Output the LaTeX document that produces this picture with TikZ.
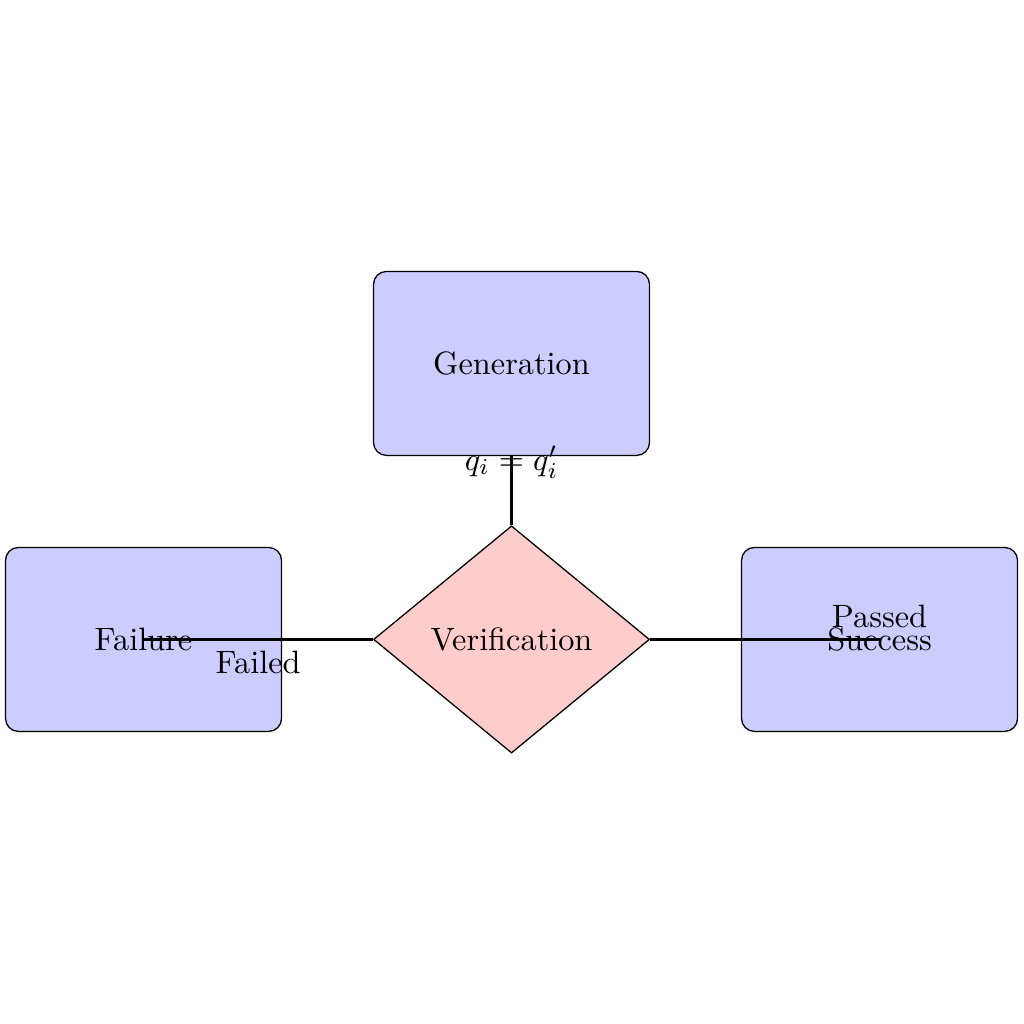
\documentclass[tikz,border=0pt]{standalone}
\usepackage{tikz}
\usetikzlibrary{positioning,shapes.geometric}
\tikzset{
      stagebox/.style={
        rounded corners=4pt,
        draw=black,
        fill=blue!20,
        minimum width=3cm,
        minimum height=2cm,
        align=center
      },
      checkdiamond/.style={
        diamond,
        draw=black,
        fill=red!20,
        minimum width=3cm,
        minimum height=2.47cm,
        inner sep=0pt
      }
    }
\begin{document}
\begin{tikzpicture}[x=1cm,y=1cm]
    \useasboundingbox (-5.56,-4.18) rectangle (5.57,6.95);
    \node[stagebox] (gen) at (0,3) {Generation};
    \node[checkdiamond] (verif) at (0,0) {Verification};
    \node[stagebox] (fail) at (-4,0) {Failure};
    \node[stagebox] (succ) at (4,0) {Success};
    \draw[thick] (verif.north) -- node[above] {$q_i = q_i'$} (gen.south);
    \draw[thick] (verif.west) -- node[below] {Failed} (fail.center);
    \draw[thick] (verif.east) -- (succ.center) node[above] {Passed};
    \end{tikzpicture}
\end{document}
